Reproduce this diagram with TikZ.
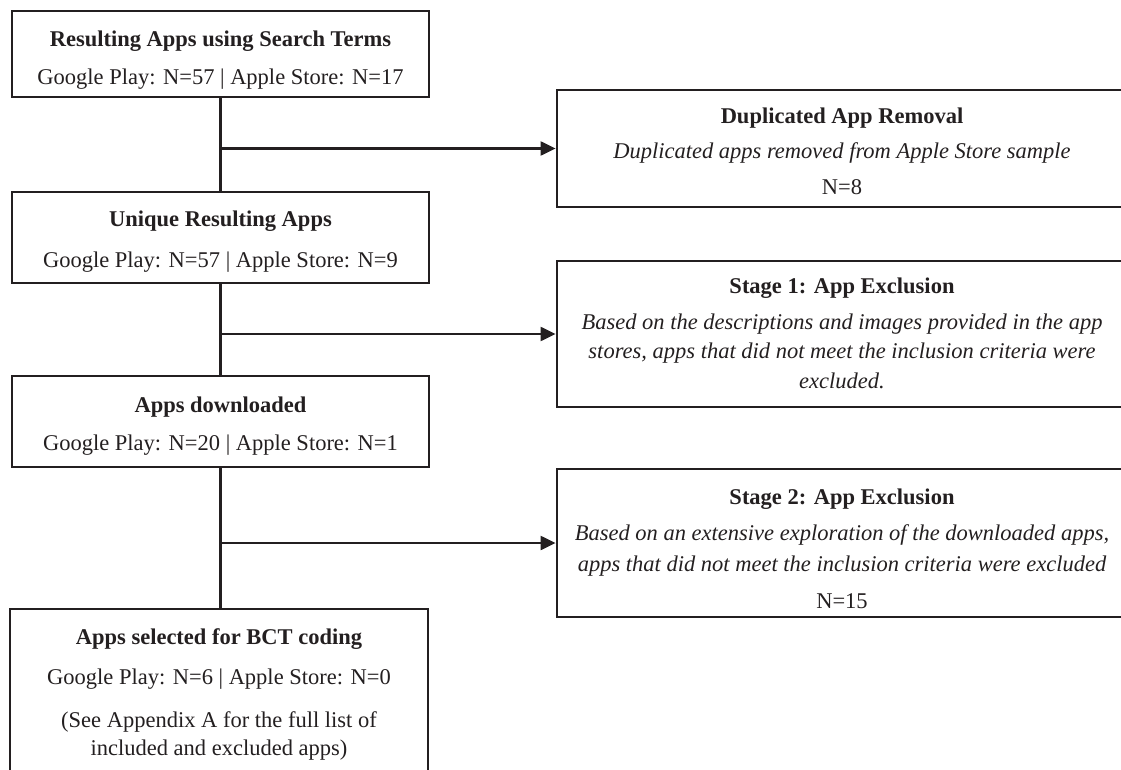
\documentclass[tikz,border=0pt]{standalone}
\usepackage{fontspec}
\setmainfont{Liberation Serif}
\usetikzlibrary{arrows.meta}
\definecolor{ink}{HTML}{231F20}
\begin{document}
\begin{tikzpicture}[x=1pt,y=-1pt,
  box/.style={draw=ink,line width=2.8pt,rectangle,inner sep=0pt},
  lbox/.style={box,minimum width=417pt},
  rbox/.style={box,minimum width=570pt},
  txt/.style={anchor=base,inner sep=0pt,text=ink,font=\fontsize{22.5}{27}\selectfont},
  link/.style={draw=ink,line width=2.2pt},
  arr/.style={link,-{Triangle[length=15pt,width=14pt]}}]
\useasboundingbox (0,0) rectangle (1121,770);
\clip (0,0) rectangle (1121,770);
% left column boxes
\node[lbox,minimum height=86pt] (b1) at (220.5,54) {};
\node[lbox,minimum height=91pt] (b2) at (220.5,237.5) {};
\node[lbox,minimum height=91pt] (b3) at (220.5,421.5) {};
\node[box,minimum width=418pt,minimum height=200pt] (b4) at (219,709) {};
% right column boxes
\node[rbox,minimum height=117pt] (d1) at (842,148.5) {};
\node[rbox,minimum height=146pt] (s1) at (842,334) {};
\node[rbox,minimum height=148pt] (s2) at (842,543) {};
% texts
\node[txt] (t1a) at (220.5,47) {\bfseries Resulting Apps using Search Terms};
\node[txt] (t1b) at (220.5,85) {Google Play: N=57 | Apple Store: N=17};
\node[txt] (t2a) at (220.5,226) {\bfseries Unique Resulting Apps};
\node[txt] (t2b) at (220.5,267) {Google Play: N=57 | Apple Store: N=9};
\node[txt] (t3a) at (220.5,412) {\bfseries Apps downloaded};
\node[txt] (t3b) at (220.5,450) {Google Play: N=20 | Apple Store: N=1};
\node[txt] (t4a) at (219,644) {\bfseries Apps selected for BCT coding};
\node[txt] (t4b) at (219,684) {Google Play: N=6 | Apple Store: N=0};
\node[txt] (t4c) at (219,727) {(See Appendix A for the full list of};
\node[txt] (t4d) at (219,755) {included and excluded apps)};
\node[txt] (d1a) at (842,124) {\bfseries Duplicated App Removal};
\node[txt] (d1b) at (842,159) {\itshape Duplicated apps removed from Apple Store sample};
\node[txt] (d1c) at (842,195) {N=8};
\node[txt] (s1a) at (842,293) {\bfseries Stage 1: App Exclusion};
\node[txt] (s1b) at (842,329) {\itshape Based on the descriptions and images provided in the app};
\node[txt] (s1c) at (842,358) {\itshape stores, apps that did not meet the inclusion criteria were};
\node[txt] (s1d) at (842,388) {\itshape excluded.};
\node[txt] (s2a) at (842,504) {\bfseries Stage 2: App Exclusion};
\node[txt] (s2b) at (842,540) {\itshape Based on an extensive exploration of the downloaded apps,};
\node[txt] (s2c) at (842,571) {\itshape apps that did not meet the inclusion criteria were excluded};
\node[txt] (s2d) at (842,608) {N=15};
% connectors
\draw[link] (b1.south) -- (b2.north);
\draw[link] (b2.south) -- (b3.north);
\draw[link] (b3.south) -- (b4.north -| b3.south);
\coordinate (j1) at (b1.south |- d1.west);
\coordinate (j2) at (b2.south |- s1.west);
\coordinate (j3) at (b3.south |- s2.west);
\draw[arr] (j1) -- (d1.west);
\draw[arr] (j2) -- (s1.west);
\draw[arr] (j3) -- (s2.west);
\end{tikzpicture}
\end{document}
